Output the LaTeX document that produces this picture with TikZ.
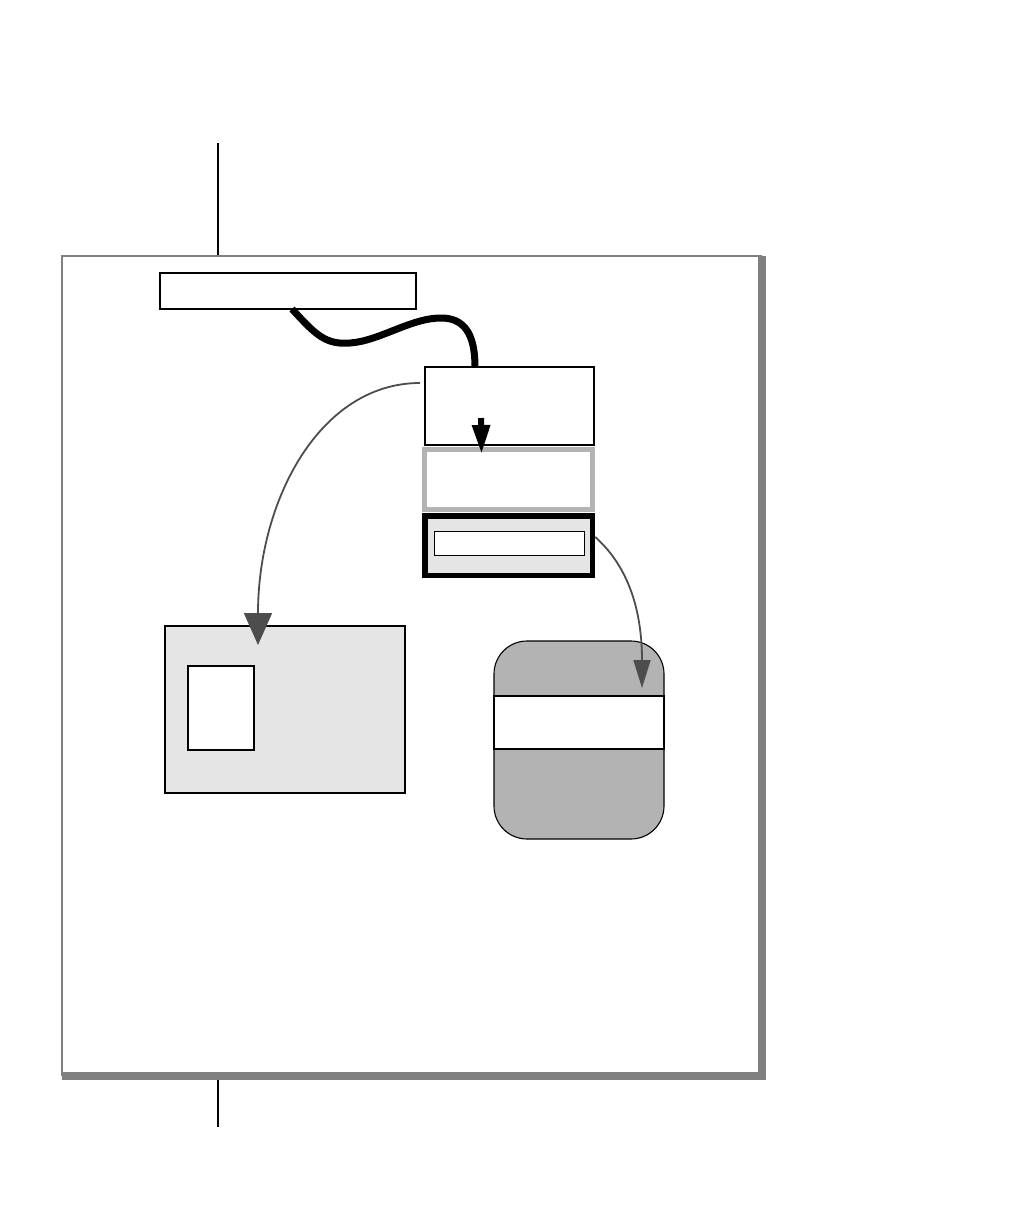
\documentclass[tikz,border=0pt]{standalone}
\usetikzlibrary{arrows.meta}
\definecolor{framegray}{HTML}{808080}
\definecolor{lightfill}{HTML}{E5E5E5}
\definecolor{midgray}{HTML}{B3B3B3}
\definecolor{arrowgray}{HTML}{4D4D4D}
\begin{document}
\begin{tikzpicture}[x=1pt,y=-1pt,
  box/.style={draw=black,rectangle,inner sep=0pt,outer sep=0pt,line width=1.3pt},
  flowline/.style={draw=arrowgray,line width=1.8pt}]
\useasboundingbox (0,0) rectangle (1010,1224);
% page frame with shadow
\draw[framegray,line width=8pt] (762,256) -- (762,1080);
\draw[framegray,line width=8pt] (62,1076) -- (766,1076);
\draw[framegray,line width=2pt] (62,1076) -- (62,256) -- (762,256);
% crop marks
\draw[black,line width=1.4pt] (218,143) -- (218,255);
\draw[black,line width=1.4pt] (218,1080) -- (218,1127);
% nodes
\node[box,fill=white,minimum width=256pt,minimum height=36pt] (top) at (288,291) {};
\node[box,fill=white,line width=2pt,minimum width=169pt,minimum height=78pt] (boxA) at (509.5,406) {};
\node[box,fill=white,draw=midgray,line width=5pt,minimum width=168pt,minimum height=60pt] (boxB) at (508.5,479.5) {};
\node[box,fill=lightfill,line width=5.5pt,minimum width=167.5pt,minimum height=59.5pt] (boxC) at (508.5,545.5) {};
\node[box,fill=white,line width=1pt,minimum width=150pt,minimum height=24pt] (innerC) at (509,543) {};
\node[box,fill=lightfill,line width=1.1pt,minimum width=240pt,minimum height=167pt] (boxD) at (285,709.5) {};
\node[box,fill=white,line width=1.1pt,minimum width=66pt,minimum height=84pt] (innerD) at (221,708) {};
\node[box,fill=midgray,line width=1.1pt,rounded corners=33pt,minimum width=170pt,minimum height=198pt] (boxE) at (579,740) {};
\node[box,fill=white,line width=1.1pt,minimum width=170pt,minimum height=53pt] (band) at (579,722.5) {};
% connectors
\draw[black,line width=7pt]
  ([xshift=4pt]top.south) .. controls (315,334) and (325,345) .. (350,343)
  .. controls (380,341) and (412,317) .. (443,318)
  .. controls (468,319) and (475,340) .. ([xshift=-34.5pt]boxA.north);
\draw[black,line width=6pt,-{Triangle[length=29pt,width=17pt]}]
  ([shift={(-28.5pt,-12pt)}]boxA.center) -- ([shift={(-27pt,-4.5pt)}]boxB.north);
\draw[flowline,-{Triangle[length=32pt,width=28pt]}]
  ([shift={(-5pt,23pt)}]boxA.west) .. controls +(-100,0) and +(0,-145) .. ([shift={(-27pt,-19pt)}]boxD.north);
\draw[flowline,-{Triangle[length=28pt,width=17pt]}]
  ([shift={(3pt,8.5pt)}]boxC.east) .. controls +(20,18) and +(0,-98) .. ([shift={(63pt,-47pt)}]boxE.north);
\end{tikzpicture}
\end{document}
